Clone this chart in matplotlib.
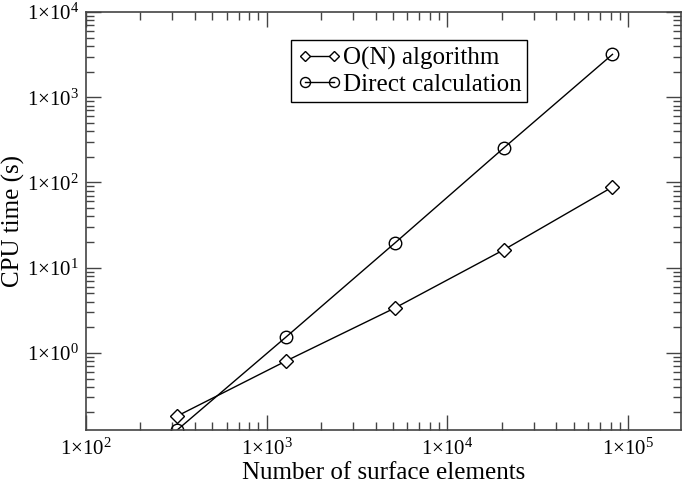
import math
import matplotlib
matplotlib.use("Agg")
import matplotlib.pyplot as plt
from matplotlib.ticker import FuncFormatter, LogLocator

plt.rcParams['font.family'] = ['Liberation Serif', 'DejaVu Serif']
plt.rcParams['mathtext.fontset'] = 'custom'
plt.rcParams['mathtext.rm'] = 'Liberation Serif'
plt.rcParams['mathtext.it'] = 'Liberation Serif'

# surface element counts and CPU times (s)
n_elements = [320, 1280, 5120, 20480, 81920]
t_on = [0.182, 0.805, 3.37, 16.2, 88.6]
t_direct = [0.125, 1.54, 19.5, 254, 3190]

fig = plt.figure(figsize=(6.83, 4.83), dpi=100)
ax = fig.add_axes([0.126, 0.11, 0.871, 0.865])

ax.plot(n_elements, t_on, color='black', lw=1, marker='D', ms=7,
        mfc='white', mec='black', mew=1, label='O(N) algorithm')
ax.plot(n_elements, t_direct, color='black', lw=1, marker='o', ms=9,
        mfc='none', mec='black', mew=1, label='Direct calculation')

ax.set_xscale('log')
ax.set_yscale('log')
ax.set_xlim(100, 1.96e5)
ax.set_ylim(0.125, 1e4)


def sci(v, pos):
    if v <= 0:
        return ''
    e = int(round(math.log10(v)))
    return '1×10$^{\\mathrm{%d}}$' % e


ax.xaxis.set_major_locator(LogLocator(base=10, numticks=10))
ax.yaxis.set_major_locator(LogLocator(base=10, numticks=10))
ax.xaxis.set_minor_locator(LogLocator(base=10, subs=range(2, 10), numticks=20))
ax.yaxis.set_minor_locator(LogLocator(base=10, subs=range(2, 10), numticks=20))
ax.xaxis.set_major_formatter(FuncFormatter(sci))
ax.yaxis.set_major_formatter(FuncFormatter(sci))
ax.xaxis.set_minor_formatter(FuncFormatter(lambda v, p: ''))
ax.yaxis.set_minor_formatter(FuncFormatter(lambda v, p: ''))

ax.tick_params(which='both', direction='in', top=True, right=True,
               labelsize=15, color='#444444')
ax.tick_params(which='major', length=11, width=1)
ax.tick_params(which='minor', length=6, width=1)
ax.tick_params(axis='y', which='major', pad=5)
ax.tick_params(axis='x', which='major', pad=6)
for s in ax.spines.values():
    s.set_color('#444444')
    s.set_linewidth(1.2)

ax.set_xlabel('Number of surface elements', fontsize=18)
ax.set_ylabel('CPU time (s)', fontsize=18)
ax.xaxis.set_label_coords(0.5, -0.078)
ax.yaxis.set_label_coords(-0.103, 0.5)

leg = ax.legend(loc='upper left', bbox_to_anchor=(0.345, 0.932), fontsize=18,
                numpoints=2, handlelength=1.75, handletextpad=0.05,
                borderpad=0.25, labelspacing=0.15, borderaxespad=0,
                fancybox=False, framealpha=1, edgecolor='black',
                markerscale=0.8)
leg.get_frame().set_linewidth(1)

fig.savefig('out.png', dpi=100)
